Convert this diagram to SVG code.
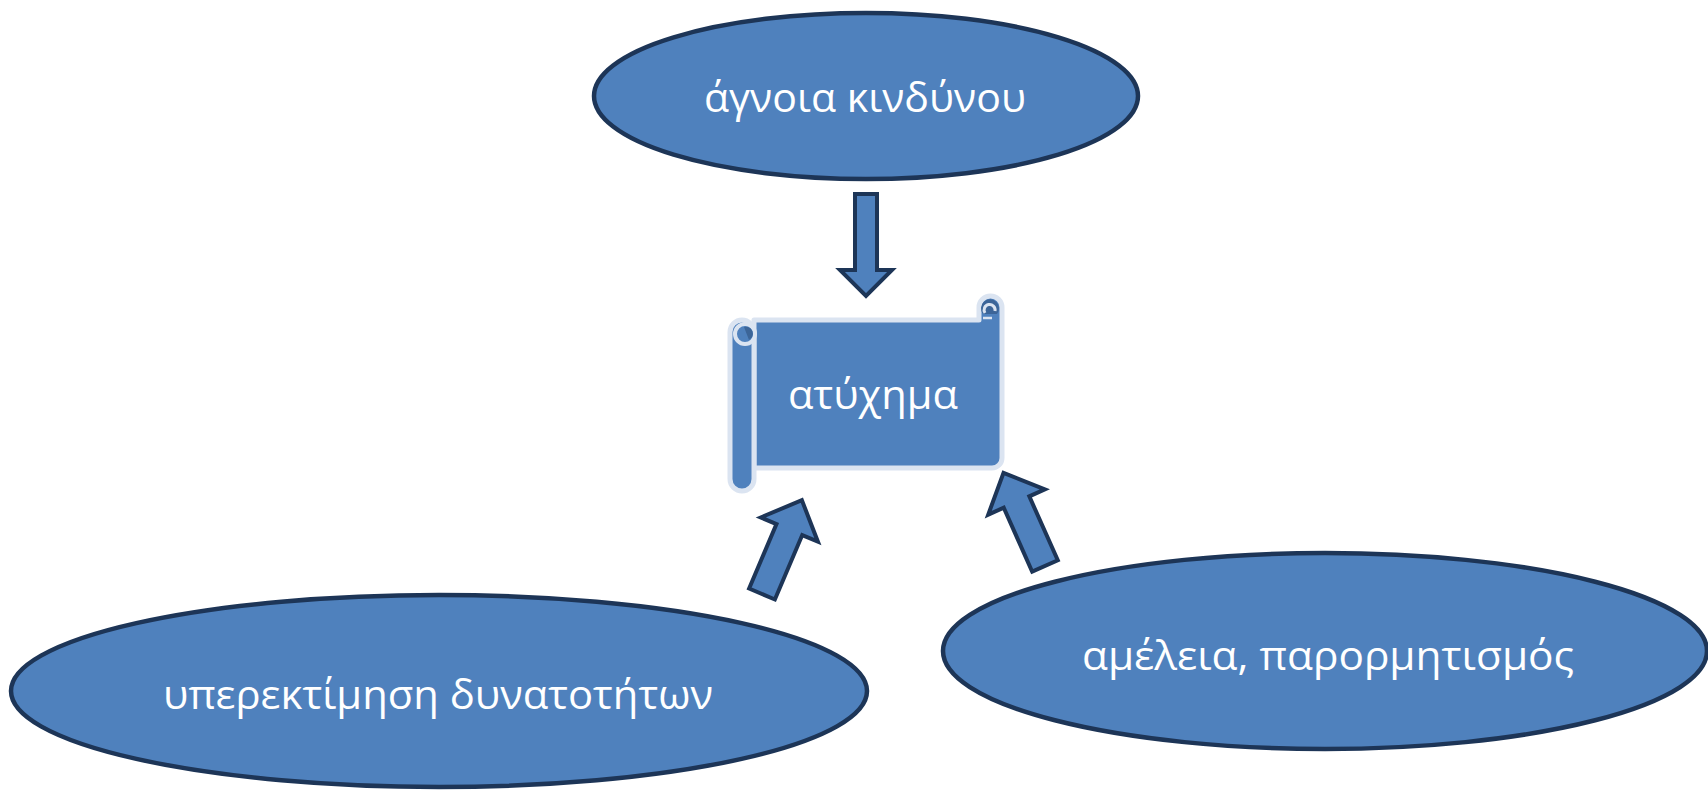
<svg xmlns="http://www.w3.org/2000/svg" width="1708" height="790" viewBox="0 0 1708 790">
<style>
.node{fill:#4f81bd;stroke:#1d3557;stroke-width:4.5}
.arrow{fill:#4f81bd;stroke:#1d3557;stroke-width:4;stroke-linejoin:miter}
.scroll{fill:#4f81bd;stroke:#dbe4f1;stroke-width:5;stroke-linejoin:round}
.lbl{font-family:"Open Sans","Noto Sans","DejaVu Sans",sans-serif;font-size:40px;fill:#ffffff;text-anchor:middle}
</style>
<defs>
<path id="arr" d="M -14 0 V -70 H -31 L 0 -102 L 31 -70 H 14 V 0 Z"/>
</defs>
<rect width="1708" height="790" fill="#ffffff"/>
<g id="node-agnoia">
<ellipse class="node" cx="866" cy="96" rx="272" ry="83"/>
<text class="lbl" x="865" y="112" textLength="322" lengthAdjust="spacingAndGlyphs">άγνοια κινδύνου</text>
</g>
<g id="node-atyxima">
<path class="scroll" d="M 754 320 H 979 V 307.5 A 11.5 11.5 0 0 1 1002 307.5 V 458 A 10 10 0 0 1 992 468 H 754 Z"/>
<path d="M 983 314 A 9 9 0 1 1 997 314 Z" fill="#3c6598"/>
<path d="M 985 313 A 5.5 5.5 0 1 1 995 311" fill="none" stroke="#dbe4f1" stroke-width="3"/>
<path d="M 983 318 H 992" stroke="#dbe4f1" stroke-width="2.5"/>
<rect class="scroll" x="730" y="320" width="24" height="171" rx="12"/>
<circle cx="745" cy="334" r="10" fill="#4f81bd" stroke="#dbe4f1" stroke-width="4"/>
<path d="M 744 327 A 7 7 0 0 1 749 340 Z" fill="#3c6598"/>
<text class="lbl" x="873" y="409" textLength="170" lengthAdjust="spacingAndGlyphs">ατύχημα</text>
</g>
<g id="node-yperektimisi">
<ellipse class="node" cx="439" cy="691" rx="428" ry="96"/>
<text class="lbl" x="438" y="709" textLength="550" lengthAdjust="spacingAndGlyphs">υπερεκτίμηση δυνατοτήτων</text>
</g>
<g id="node-ameleia">
<ellipse class="node" cx="1325" cy="651" rx="382" ry="98"/>
<text class="lbl" x="1328" y="670" textLength="492" lengthAdjust="spacingAndGlyphs">αμέλεια, παρορμητισμός</text>
</g>
<g id="connectors">
<path class="arrow" d="M -11 0 V -76 H -26 L 0 -102 L 26 -76 H 11 V 0 Z" transform="translate(866,194) rotate(180)"/>
<use href="#arr" class="arrow" transform="translate(762,594) rotate(23)"/>
<use href="#arr" class="arrow" transform="translate(1045,566) rotate(-24)"/>
</g>
</svg>
